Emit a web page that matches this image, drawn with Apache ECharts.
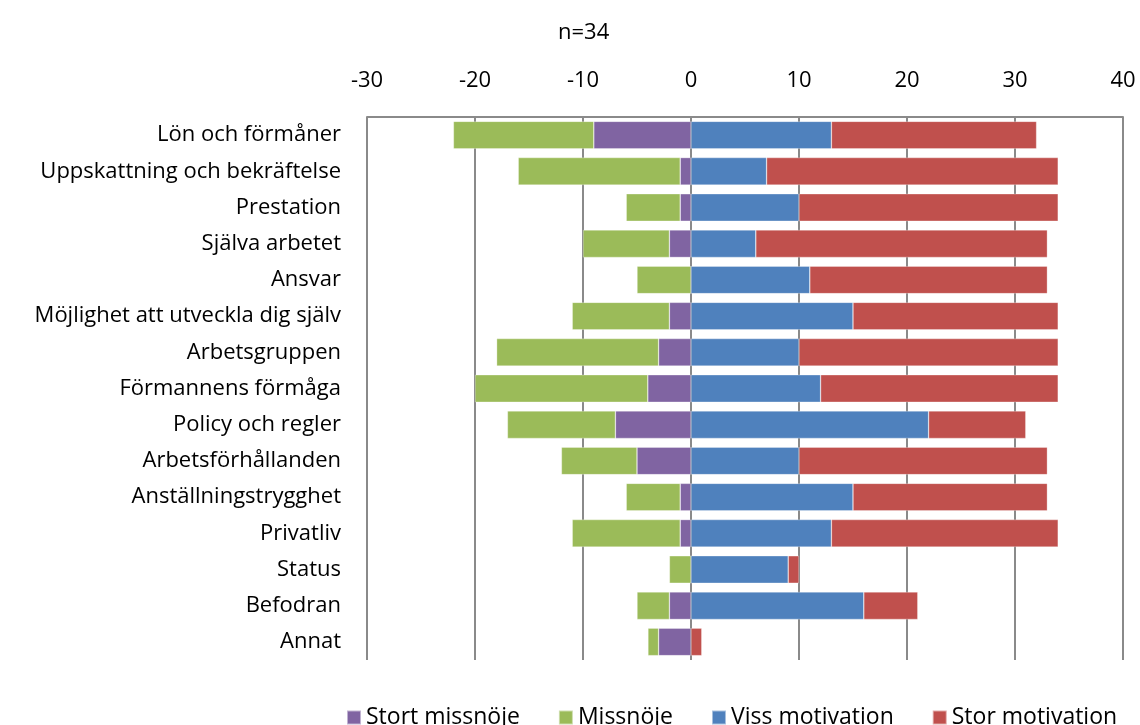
<!DOCTYPE html>
<html>
<head>
<meta charset="utf-8">
<script src="https://cdn.jsdelivr.net/npm/echarts@6/dist/echarts.min.js"></script>
<style>
  html, body { margin: 0; padding: 0; background: #fff; }
  #chart { width: 1140px; height: 725px; }
</style>
</head>
<body>
<div id="chart"></div>
<script>
// Motivationsfaktorer, antal svar (n=34). Missnöje ritas som negativa värden.
const categories = [
  'Lön och förmåner',
  'Uppskattning och bekräftelse',
  'Prestation',
  'Själva arbetet',
  'Ansvar',
  'Möjlighet att utveckla dig själv',
  'Arbetsgruppen',
  'Förmannens förmåga',
  'Policy och regler',
  'Arbetsförhållanden',
  'Anställningstrygghet',
  'Privatliv',
  'Status',
  'Befodran',
  'Annat'
];
const seriesNames     = ['Stort missnöje', 'Missnöje', 'Viss motivation', 'Stor motivation'];
const stortMissnoje   = [9, 1, 1, 2, 0, 2, 3, 4, 7, 5, 1, 1, 0, 2, 3];
const missnoje        = [13, 15, 5, 8, 5, 9, 15, 16, 10, 7, 5, 10, 2, 3, 1];
const vissMotivation  = [13, 7, 10, 6, 11, 15, 10, 12, 22, 10, 15, 13, 9, 16, 0];
const storMotivation  = [19, 27, 24, 27, 22, 19, 24, 22, 9, 23, 18, 21, 1, 5, 1];
const xTicks = { min: -30, max: 40, interval: 10 };

const FONT = '"Open Sans", "Noto Sans", sans-serif';
const FS = 22;
const COLORS = ['#8064A2', '#9BBB59', '#4F81BD', '#C0504D'];
const neg = arr => arr.map(v => -v);

function bar(i, data) {
  return {
    name: seriesNames[i], type: 'bar', stack: 'total', data,
    barCategoryGap: '24%',
    itemStyle: { color: COLORS[i], borderColor: 'rgba(255,255,255,0.5)', borderWidth: 0.6 },
    emphasis: { disabled: true }
  };
}

const chart = echarts.init(document.getElementById('chart'));
chart.setOption({
  animation: false,
  textStyle: { fontFamily: FONT },
  title: {
    text: 'n=34',
    left: 553, top: 17,
    textStyle: { fontFamily: FONT, fontSize: FS, fontWeight: 'normal', color: '#000' }
  },
  grid: { left: 367, right: 17, top: 117, bottom: 65 },
  xAxis: {
    type: 'value', position: 'top',
    min: xTicks.min, max: xTicks.max, interval: xTicks.interval,
    axisLine: { show: true, lineStyle: { color: '#8a8a8a', width: 2 } },
    axisTick: { show: false },
    axisLabel: { fontFamily: FONT, fontSize: FS, color: '#000', margin: 25 },
    splitLine: { show: true, lineStyle: { color: '#8a8a8a', width: 2 } }
  },
  yAxis: {
    type: 'category', data: categories, inverse: true,
    axisLine: { show: false },
    axisTick: { show: false },
    axisLabel: { fontFamily: FONT, fontSize: FS, color: '#000', margin: 26 }
  },
  legend: {
    left: 341, top: 701,
    itemWidth: 14, itemHeight: 14, itemGap: 38,
    icon: 'rect',
    textStyle: { fontFamily: FONT, fontSize: 23, color: '#000' },
    data: seriesNames
  },
  series: [
    bar(0, neg(stortMissnoje)),
    bar(1, neg(missnoje)),
    bar(2, vissMotivation),
    bar(3, storMotivation)
  ]
});
</script>
</body>
</html>
